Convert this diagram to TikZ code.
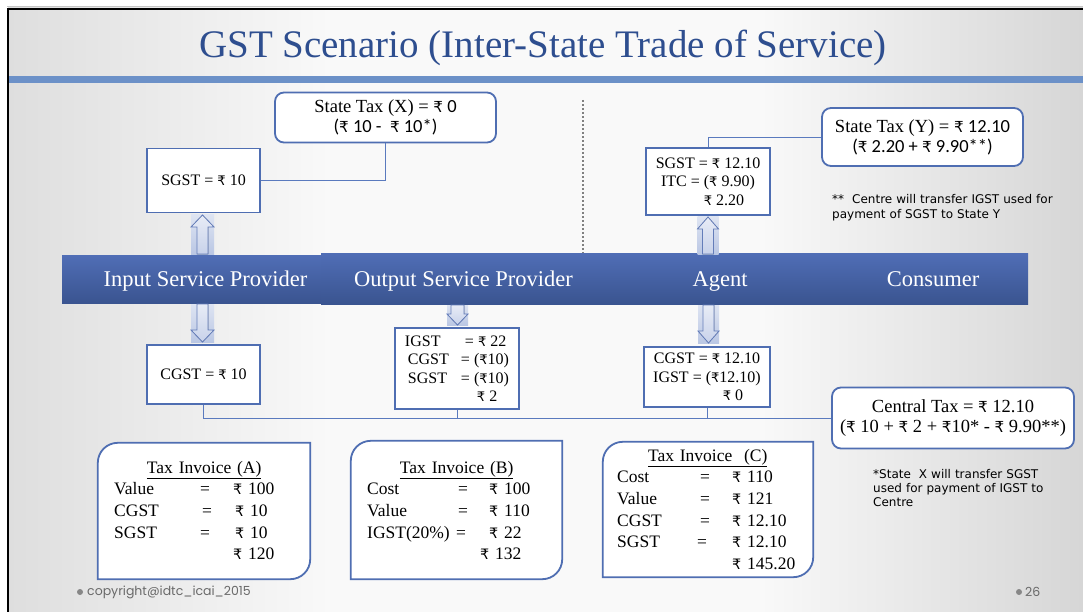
\documentclass[tikz,border=0pt]{standalone}
\usepackage{fontspec}
\setmainfont{Liberation Serif}
\newfontfamily\rsf[Scale=0.82]{DejaVu Sans}
\newfontfamily\notefont{DejaVu Sans}
\newfontfamily\calfont{Carlito}
\newfontfamily\footfont{Poppins}
\newcommand\Rs{{\rsf ₹}}
\usetikzlibrary{calc}
\definecolor{titleblue}{RGB}{46,78,143}
\definecolor{boxblue}{RGB}{79,110,178}
\definecolor{linkblue}{RGB}{90,122,190}
\definecolor{stripeblue}{RGB}{108,145,200}
\definecolor{bartop}{RGB}{80,110,182}
\definecolor{barbot}{RGB}{58,84,144}
\definecolor{arrline}{RGB}{100,125,185}
\definecolor{arrbgtop}{RGB}{222,228,242}
\definecolor{arrbgbot}{RGB}{186,199,228}
\definecolor{arrfilltop}{RGB}{232,236,246}
\definecolor{arrfillbot}{RGB}{200,210,234}
\definecolor{footgray}{RGB}{105,105,105}
\definecolor{bgl}{RGB}{222,222,222}
\definecolor{bgm}{RGB}{249,249,249}
\definecolor{bgr}{RGB}{214,214,214}
\newcommand\barrow[6]{% x, tip y, tail y, head base y, half head width, half shaft width
  \fill[arrbg] (#1-#5,#2) rectangle (#1+#5,#3);
  \filldraw[arrshape] (#1,#2) -- (#1+#5,#4) -- (#1+#6,#4) -- (#1+#6,#3) -- (#1-#6,#3) -- (#1-#6,#4) -- (#1-#5,#4) -- cycle;}
\newcommand\invoutline[1]{%
  \filldraw[box] (#1.south west) -- ($(#1.north west)+(0,20)$) to[out=90,in=180] ($(#1.north west)+(20,0)$) -- (#1.north east) -- ($(#1.south east)+(0,-20)$) to[out=-90,in=0] ($(#1.south east)+(-20,0)$) -- cycle;}
\begin{document}
\begin{tikzpicture}[x=1pt,y=-1pt,
  box/.style={draw=boxblue, line width=1.8pt, fill=white, inner sep=0pt, align=center},
  rbox/.style={box, rounded corners=9pt},
  link/.style={draw=linkblue, line width=0.9pt},
  bar/.style={rectangle, inner sep=0pt, draw=none, top color=bartop, bottom color=barbot},
  barlabel/.style={text=white, font=\fontsize{22.5}{25}\selectfont, inner sep=0pt, anchor=base},
  txtsm/.style={font=\fontsize{16}{18.5}\selectfont},
  txtbig/.style={font=\fontsize{18.5}{21}\selectfont},
  invnode/.style={inner sep=0pt, draw=none},
  invtxt/.style={inner sep=0pt, align=left, anchor=base west, font=\fontsize{17.5}{21.7}\selectfont},
  note/.style={inner sep=0pt, align=left, anchor=base west, font=\notefont\fontsize{12}{14.3}\selectfont},
  arrbg/.style={top color=arrbgtop, bottom color=arrbgbot, draw=none},
  arrshape/.style={draw=arrline, line width=0.8pt, top color=arrfilltop, bottom color=arrfillbot},
  dotline/.style={draw=gray, line width=1.2pt, dash pattern=on 2pt off 2pt},
]
\useasboundingbox (0,0) rectangle (1083,612);
% slide background
\fill[white] (0,0) rectangle (1083,612);
\fill[bgm] (8,8) rectangle (1083,612);
\shade[left color=bgl, right color=bgm] (8,8) rectangle (330,612);
\shade[left color=bgm, right color=bgr] (760,8) rectangle (1083,612);
\draw[gray!45, line width=1pt] (7,6.5) -- (1083,6.5);
\draw[black, line width=2pt] (8,612) -- (8,9) -- (1083,9);
\fill[stripeblue] (9,76) rectangle (1083,83);
\node[text=titleblue, font=\fontsize{39}{44}\selectfont, inner sep=0pt, anchor=base] (title) at (543,58) {GST Scenario (Inter-State Trade of Service)};

% banner
\node[bar, minimum width=259, minimum height=48] (bar1) at (191.5,279) {};
\node[bar, minimum width=707, minimum height=51] (bar2) at (674.5,278.5) {};
\node[barlabel] (isp) at (205.5,286.5) {Input Service Provider};
\node[barlabel] (osp) at (463.5,286.5) {Output Service Provider};
\node[barlabel] (agent) at (720,286.5) {Agent};
\node[barlabel] (consumer) at (933,286.5) {Consumer};

% dotted divider
\coordinate (dtop) at (583,100);
\draw[dotline] (dtop) -- (dtop |- bar2.north);

% block arrows
\barrow{202.5}{215}{254}{227}{11.5}{5.5}
\barrow{202.5}{342}{304}{330}{11.5}{5.5}
\barrow{457.5}{325}{305}{314}{10.5}{6.5}
\barrow{708}{217}{254}{229}{10.5}{5.5}
\barrow{708.5}{343}{305}{331}{10.5}{5.5}

% top boxes
\node[rbox, txtbig, minimum width=221, minimum height=50] (stx) at (385.5,117.5)
  {State Tax (X) = {\calfont\Rs\ 0}\\[-1pt] {\calfont (\Rs\ 10 -\ \ \Rs\ 10*)}};
\node[box, txtsm, minimum width=113, minimum height=64] (sgstA) at (203.5,180.5) {SGST = \Rs\ 10};
\draw[link] (sgstA.east) -| (stx.south);

\node[rbox, txtbig, minimum width=201, minimum height=58] (sty) at (922.5,137)
  {State Tax (Y) = {\calfont\Rs\ 12.10}\\[-1pt] {\calfont (\Rs\ 2.20 + \Rs\ 9.90**)}};
\node[box, txtsm, minimum width=124, minimum height=67] (sgstY) at (708,181.5)
  {SGST = \Rs\ 12.10\\ITC = (\Rs\ 9.90)\\\hspace*{32pt}\Rs\ 2.20};
\draw[link] (sgstY.north) |- (sty.west);
\node[note, text width=245] (note2) at (832,204)
  {**\ \ Centre will transfer IGST used for\\payment of SGST to State Y};

% lower boxes
\node[box, txtsm, minimum width=113, minimum height=59] (cgstA) at (203.5,374.5) {CGST = \Rs\ 10};
\node[box, txtsm, minimum width=124, minimum height=81, align=left] (igstB) at (457,368.5)
  {\makebox[56pt][l]{IGST}\hspace*{4pt}= \Rs\ 22\\
   \hspace*{3pt}\makebox[53pt][l]{CGST}= (\Rs10)\\
   \hspace*{3pt}\makebox[53pt][l]{SGST}= (\Rs10)\\
   \hspace*{72pt}\Rs\ 2};
\node[box, txtsm, minimum width=126, minimum height=60] (cgstC) at (707,377)
  {CGST = \Rs\ 12.10\\IGST = (\Rs12.10)\\\hspace*{52pt}\Rs\ 0};
\node[rbox, txtbig, minimum width=242, minimum height=61] (ctax) at (953,418)
  {Central Tax = \Rs\ 12.10\\[-1pt] (\Rs\ 10 + \Rs\ 2 + \Rs10* - \Rs\ 9.90**)};
\draw[link] (cgstA.south) |- (ctax.west);
\draw[link] (igstB.south) -- (igstB.south |- ctax.west);
\draw[link] (cgstC.south) -- (cgstC.south |- ctax.west);

% invoices
\node[invnode, minimum width=212, minimum height=136] (invA) at (204,511) {};
\node[invnode, minimum width=211, minimum height=138] (invB) at (456.5,510) {};
\node[invnode, minimum width=210, minimum height=135] (invC) at (708,509.5) {};
\invoutline{invA}
\invoutline{invB}
\invoutline{invC}
\node[invtxt, text width=180] (invAt) at (114,473)
  {\makebox[180pt][c]{\underline{Tax Invoice (A)}}\\
   \makebox[86pt][l]{Value}\makebox[33pt][l]{=}\Rs\ 100\\
   \makebox[88pt][l]{CGST}\makebox[33pt][l]{=}\Rs\ 10\\
   \makebox[86pt][l]{SGST}\makebox[35pt][l]{=}\Rs\ 10\\
   \hspace*{119pt}\Rs\ 120};
\node[invtxt, text width=180] (invBt) at (367,473)
  {\makebox[179pt][c]{\underline{Tax Invoice (B)}}\\
   \makebox[91pt][l]{Cost}\makebox[31pt][l]{=}\Rs\ 100\\
   \makebox[91pt][l]{Value}\makebox[31pt][l]{=}\Rs\ 110\\
   \makebox[89pt][l]{IGST(20\%)}\makebox[33pt][l]{=}\Rs\ 22\\
   \hspace*{113pt}\Rs\ 132};
\node[invtxt, text width=180] (invCt) at (617,461)
  {\makebox[181pt][c]{\underline{Tax Invoice\ \ (C)}}\\
   \makebox[83pt][l]{Cost}\makebox[32pt][l]{=}\Rs\ 110\\
   \makebox[83pt][l]{Value}\makebox[32pt][l]{=}\Rs\ 121\\
   \makebox[83pt][l]{CGST}\makebox[32pt][l]{=}\Rs\ 12.10\\
   \makebox[80pt][l]{SGST}\makebox[35pt][l]{=}\Rs\ 12.10\\
   \hspace*{115pt}\Rs\ 145.20};
\node[note, text width=200] (note1) at (873,478)
  {*State\ \ X will transfer SGST\\used for payment of IGST to\\Centre};

% footer
\node[circle, fill=footgray!80, inner sep=0pt, minimum size=6pt] (fb1) at (80,592) {};
\node[anchor=west, inner sep=0pt, text=footgray, font=\footfont\fontsize{12.5}{14}\selectfont] (copy) at (87,592) {copyright@idtc\_icai\_2015};
\node[circle, fill=footgray!80, inner sep=0pt, minimum size=6pt] (fb2) at (1019,592) {};
\node[anchor=west, inner sep=0pt, text=footgray, font=\footfont\fontsize{12.5}{14}\selectfont] (pnum) at (1025,592) {26};
\end{tikzpicture}
\end{document}
